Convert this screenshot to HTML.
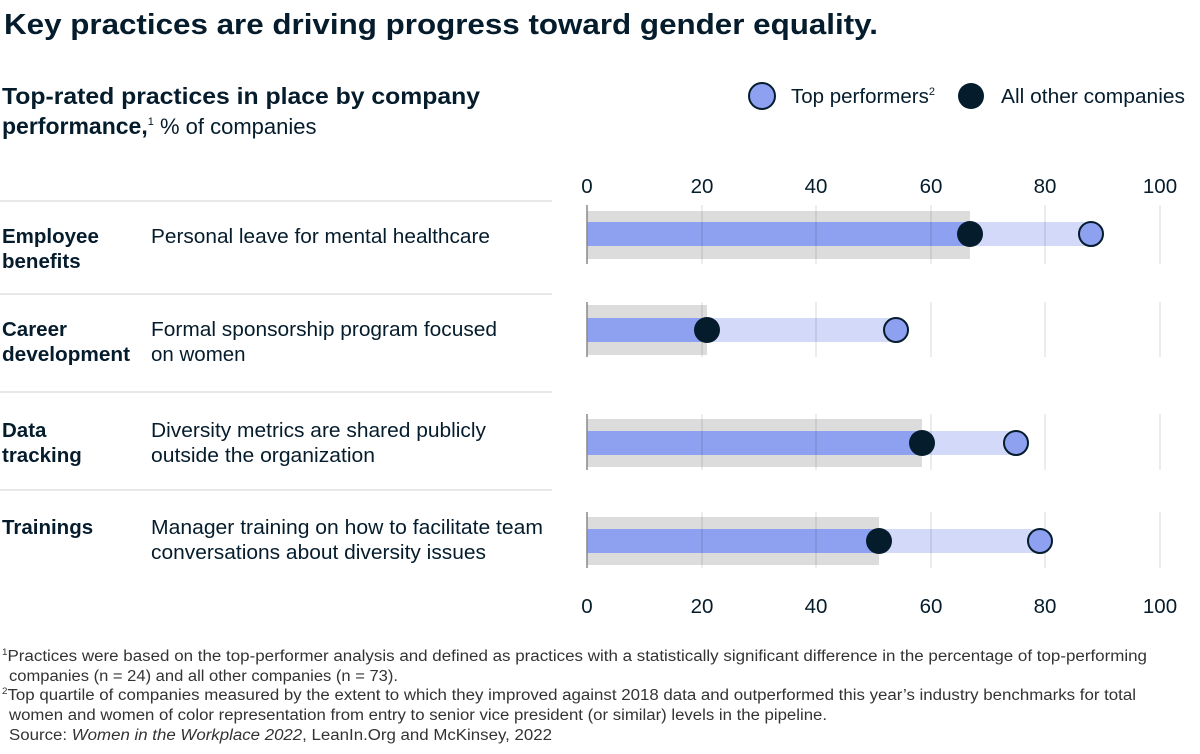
<!DOCTYPE html>
<html><head><meta charset="utf-8"><style>
body{margin:0;background:#fff;}
svg{display:block;font-family:"Liberation Sans",sans-serif;fill:#051c2c;}
</style></head><body>
<svg width="1200" height="754" viewBox="0 0 1200 754">
<text x="4" y="34" font-size="29" font-weight="bold" textLength="874" lengthAdjust="spacingAndGlyphs">Key practices are driving progress toward gender equality.</text>
<text x="2" y="104" font-size="23" font-weight="bold" textLength="478" lengthAdjust="spacingAndGlyphs">Top-rated practices in place by company</text>
<text x="2" y="134" font-size="23"><tspan font-weight="bold">performance,</tspan><tspan font-size="11" dy="-9">1</tspan><tspan dy="9" font-size="22"> % of companies</tspan></text>
<circle cx="762" cy="96" r="13" fill="#8ea0f0" stroke="#051c2c" stroke-width="2"/>
<text x="791" y="103" font-size="20.5">Top performers<tspan font-size="11" dy="-8">2</tspan></text>
<circle cx="971" cy="96" r="13" fill="#051c2c"/>
<text x="1001" y="103" font-size="20.5" textLength="184" lengthAdjust="spacingAndGlyphs">All other companies</text>
<g stroke="#d0d0d0" stroke-width="1">
<line x1="0" y1="201" x2="552" y2="201"/><line x1="0" y1="294" x2="552" y2="294"/>
<line x1="0" y1="392" x2="552" y2="392"/><line x1="0" y1="490" x2="552" y2="490"/>
</g>
<g font-size="20.5" text-anchor="middle">
<text x="587" y="193">0</text><text x="702" y="193">20</text><text x="816" y="193">40</text><text x="931" y="193">60</text><text x="1045" y="193">80</text><text x="1160" y="193">100</text>
<text x="587" y="613">0</text><text x="702" y="613">20</text><text x="816" y="613">40</text><text x="931" y="613">60</text><text x="1045" y="613">80</text><text x="1160" y="613">100</text>
</g>
<g font-size="20.5">
<text x="2" y="243" font-weight="bold">Employee</text><text x="2" y="268" font-weight="bold">benefits</text>
<text x="151" y="243" textLength="339" lengthAdjust="spacingAndGlyphs">Personal leave for mental healthcare</text>
<text x="2" y="336" font-weight="bold">Career</text><text x="2" y="361" font-weight="bold" textLength="128" lengthAdjust="spacingAndGlyphs">development</text>
<text x="151" y="336" textLength="346" lengthAdjust="spacingAndGlyphs">Formal sponsorship program focused</text><text x="151" y="361">on women</text>
<text x="2" y="437" font-weight="bold">Data</text><text x="2" y="462" font-weight="bold">tracking</text>
<text x="151" y="437" textLength="335" lengthAdjust="spacingAndGlyphs">Diversity metrics are shared publicly</text><text x="151" y="462" textLength="224" lengthAdjust="spacingAndGlyphs">outside the organization</text>
<text x="2" y="534" font-weight="bold">Trainings</text>
<text x="151" y="534" textLength="392" lengthAdjust="spacingAndGlyphs">Manager training on how to facilitate team</text><text x="151" y="559" textLength="335" lengthAdjust="spacingAndGlyphs">conversations about diversity issues</text>
</g>
<g>
<rect x="587" y="211" width="383" height="48" fill="#dcdcdc"/>
<rect x="587" y="222" width="504" height="24" fill="#d3d9f8"/>
<rect x="587" y="222" width="383" height="24" fill="#8ea0f0"/>
<rect x="587" y="305" width="120" height="50" fill="#dcdcdc"/>
<rect x="587" y="318" width="309" height="24" fill="#d3d9f8"/>
<rect x="587" y="318" width="120" height="24" fill="#8ea0f0"/>
<rect x="587" y="419" width="335" height="48" fill="#dcdcdc"/>
<rect x="587" y="431" width="429" height="24" fill="#d3d9f8"/>
<rect x="587" y="431" width="335" height="24" fill="#8ea0f0"/>
<rect x="587" y="517" width="292" height="48" fill="#dcdcdc"/>
<rect x="587" y="529" width="453" height="24" fill="#d3d9f8"/>
<rect x="587" y="529" width="292" height="24" fill="#8ea0f0"/>
</g>
<g stroke="#000" stroke-opacity="0.15" stroke-width="1">
<line x1="702" y1="205" x2="702" y2="264"/><line x1="816" y1="205" x2="816" y2="264"/><line x1="931" y1="205" x2="931" y2="264"/><line x1="1045" y1="205" x2="1045" y2="264"/><line x1="1160" y1="205" x2="1160" y2="264"/>
<line x1="702" y1="302" x2="702" y2="357"/><line x1="816" y1="302" x2="816" y2="357"/><line x1="931" y1="302" x2="931" y2="357"/><line x1="1045" y1="302" x2="1045" y2="357"/><line x1="1160" y1="302" x2="1160" y2="357"/>
<line x1="702" y1="414" x2="702" y2="470"/><line x1="816" y1="414" x2="816" y2="470"/><line x1="931" y1="414" x2="931" y2="470"/><line x1="1045" y1="414" x2="1045" y2="470"/><line x1="1160" y1="414" x2="1160" y2="470"/>
<line x1="702" y1="512" x2="702" y2="568"/><line x1="816" y1="512" x2="816" y2="568"/><line x1="931" y1="512" x2="931" y2="568"/><line x1="1045" y1="512" x2="1045" y2="568"/><line x1="1160" y1="512" x2="1160" y2="568"/>
</g>
<g stroke="#888" stroke-width="1.5">
<line x1="587" y1="205" x2="587" y2="264"/><line x1="587" y1="302" x2="587" y2="357"/><line x1="587" y1="414" x2="587" y2="470"/><line x1="587" y1="512" x2="587" y2="568"/>
</g>
<g>
<circle cx="1091" cy="234" r="12" fill="#8ea0f0" stroke="#051c2c" stroke-width="2"/>
<circle cx="970" cy="234" r="13" fill="#051c2c"/>
<circle cx="896" cy="330" r="12" fill="#8ea0f0" stroke="#051c2c" stroke-width="2"/>
<circle cx="707" cy="330" r="13" fill="#051c2c"/>
<circle cx="1016" cy="443" r="12" fill="#8ea0f0" stroke="#051c2c" stroke-width="2"/>
<circle cx="922" cy="443" r="13" fill="#051c2c"/>
<circle cx="1040" cy="541" r="12" fill="#8ea0f0" stroke="#051c2c" stroke-width="2"/>
<circle cx="879" cy="541" r="13" fill="#051c2c"/>
</g>
<g font-size="15.5" fill="#333">
<text x="2" y="661" textLength="1145" lengthAdjust="spacingAndGlyphs"><tspan font-size="9" dy="-6">1</tspan><tspan dy="6">Practices were based on the top-performer analysis and defined as practices with a statistically significant difference in the percentage of top-performing</tspan></text>
<text x="9" y="681" textLength="389" lengthAdjust="spacingAndGlyphs">companies (n = 24) and all other companies (n = 73).</text>
<text x="2" y="700" textLength="1134" lengthAdjust="spacingAndGlyphs"><tspan font-size="9" dy="-6">2</tspan><tspan dy="6">Top quartile of companies measured by the extent to which they improved against 2018 data and outperformed this year’s industry benchmarks for total</tspan></text>
<text x="9" y="720" textLength="818" lengthAdjust="spacingAndGlyphs">women and women of color representation from entry to senior vice president (or similar) levels in the pipeline.</text>
<text x="9" y="740" textLength="543" lengthAdjust="spacingAndGlyphs">Source: <tspan font-style="italic">Women in the Workplace 2022</tspan>, LeanIn.Org and McKinsey, 2022</text>
</g>
</svg>
</body></html>
